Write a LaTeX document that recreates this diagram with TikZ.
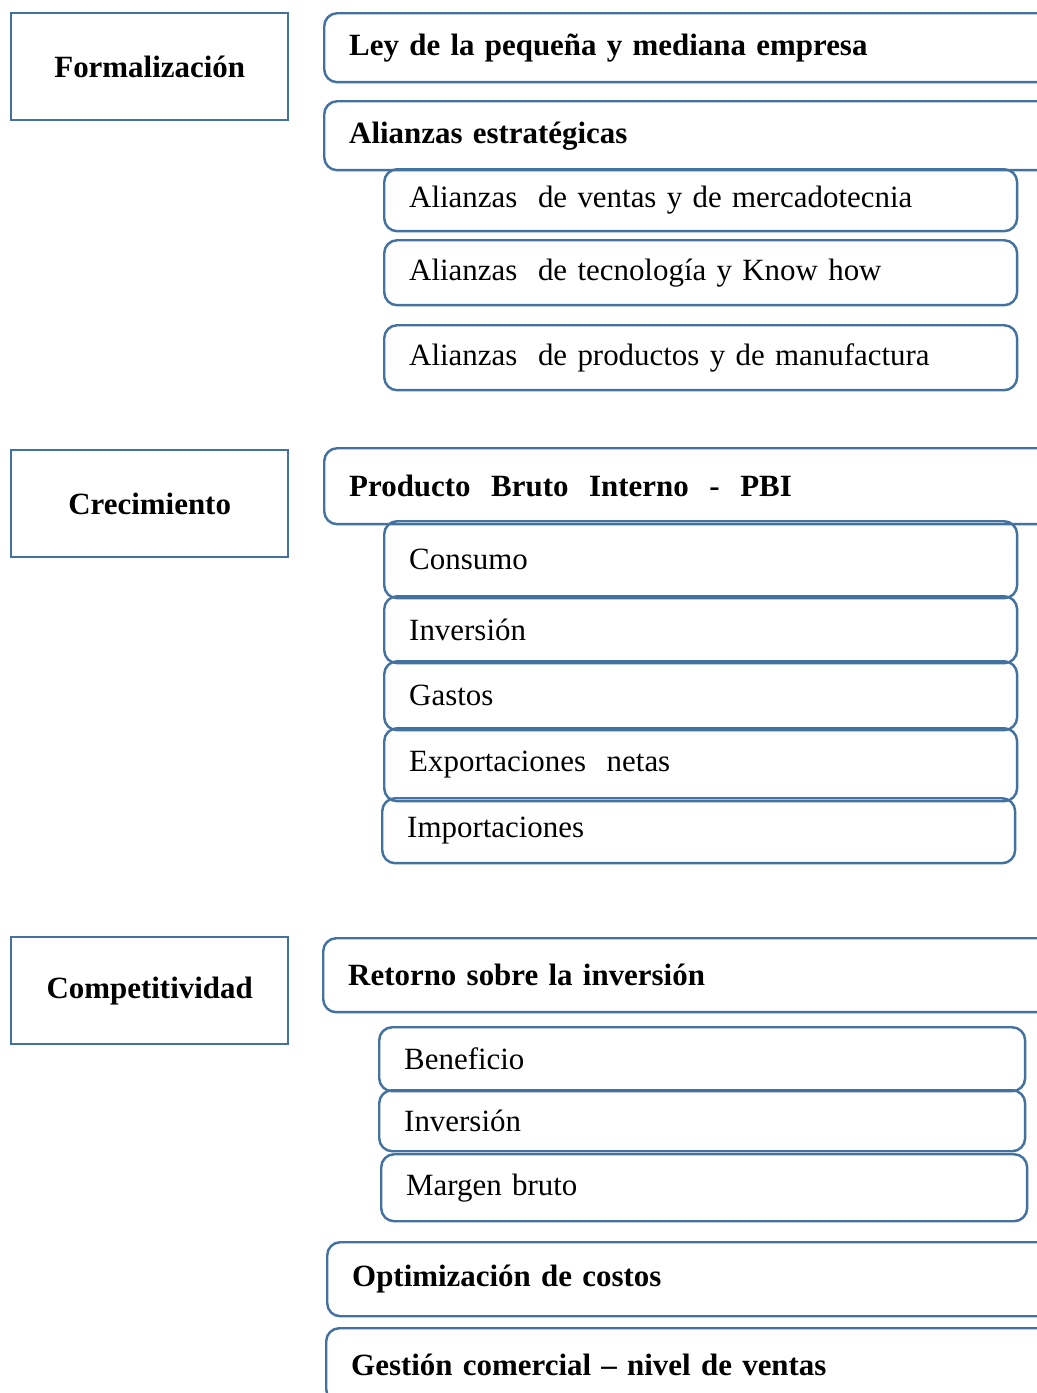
\documentclass[tikz,border=0pt]{standalone}
\usepackage{fontspec}
\setmainfont{Liberation Serif}
\definecolor{boxblue}{RGB}{68,114,160}

\begin{document}
\begin{tikzpicture}[x=0.02cm, y=-0.02cm,
    leftbox/.style={draw=boxblue, line width=\linethic, anchor=north west, minimum width=5.54cm, minimum height=2.14cm, font=\fontsize{17.6}{21}\selectfont\bfseries},
    widebox/.style={draw=boxblue, line width=\linethic, rounded corners=\corner, anchor=north west, inner xsep=0.5cm, text width=14.4cm, align=left, font=\fontsize{17.6}{21}\selectfont\bfseries},
    subbox/.style={draw=boxblue, line width=\linethic, rounded corners=\corner, anchor=north west, inner xsep=0.5cm, text width=#1, align=left, font=\fontsize{17.6}{21}\selectfont},
    subbox/.default=11.66cm]
    %--------------------%
    % Parameters
    %--------------------%
    \def\linethic{1.4pt}
    \def\corner{0.26cm}

    \clip (0,0) rectangle (1037,1393);

    %--------------------%
    % Formalizacion
    %--------------------%
    \node[leftbox] (formal) at (10,12) {Formalización};

    \node[widebox, minimum height=1.38cm] (ley) at (323,12) {Ley de la pequeña y mediana empresa};
    \node[widebox, minimum height=1.38cm] (alianzas) at (323,100) {Alianzas estratégicas};
    \node[subbox, minimum height=1.24cm] (ventas) at (383,168) {Alianzas\ \ de ventas y de mercadotecnia};
    \node[subbox, minimum height=1.30cm] (tecno) at (383,239) {Alianzas\ \ de tecnología y Know how};
    \node[subbox, minimum height=1.30cm] (manuf) at (383,324) {Alianzas\ \ de productos y de manufactura};

    %--------------------%
    % Crecimiento
    %--------------------%
    \node[leftbox] (crec) at (10,449) {Crecimiento};

    \node[widebox, minimum height=1.52cm] (pbi) at (323,447) {Producto\ \ Bruto\ \ Interno\ \ -\ \ PBI};
    \node[subbox, minimum height=1.54cm] (consumo) at (383,520) {Consumo};
    \node[subbox, minimum height=1.34cm] (inver) at (383,595) {Inversión};
    \node[subbox, minimum height=1.38cm] (gastos) at (383,660) {Gastos};
    \node[subbox, minimum height=1.46cm] (export) at (383,727) {Exportaciones\ \ netas};
    \node[subbox, minimum height=1.30cm] (import) at (381,797) {Importaciones};

    %--------------------%
    % Competitividad
    %--------------------%
    \node[leftbox] (compet) at (10,936) {Competitividad};

    \node[widebox, minimum height=1.48cm] (retorno) at (322,937) {Retorno sobre la inversión};
    \node[subbox=11.92cm, minimum height=1.28cm] (benef) at (378,1026) {Beneficio};
    \node[subbox=11.92cm, minimum height=1.22cm] (inver2) at (378,1089) {Inversión};
    \node[subbox=11.92cm, minimum height=1.34cm] (margen) at (380,1153) {Margen bruto};
    \node[widebox, minimum height=1.48cm] (optim) at (326,1241) {Optimización de costos};
    \node[widebox, minimum height=1.48cm] (gestion) at (325,1327) {Gestión comercial – nivel de ventas};

\end{tikzpicture}
\end{document}
